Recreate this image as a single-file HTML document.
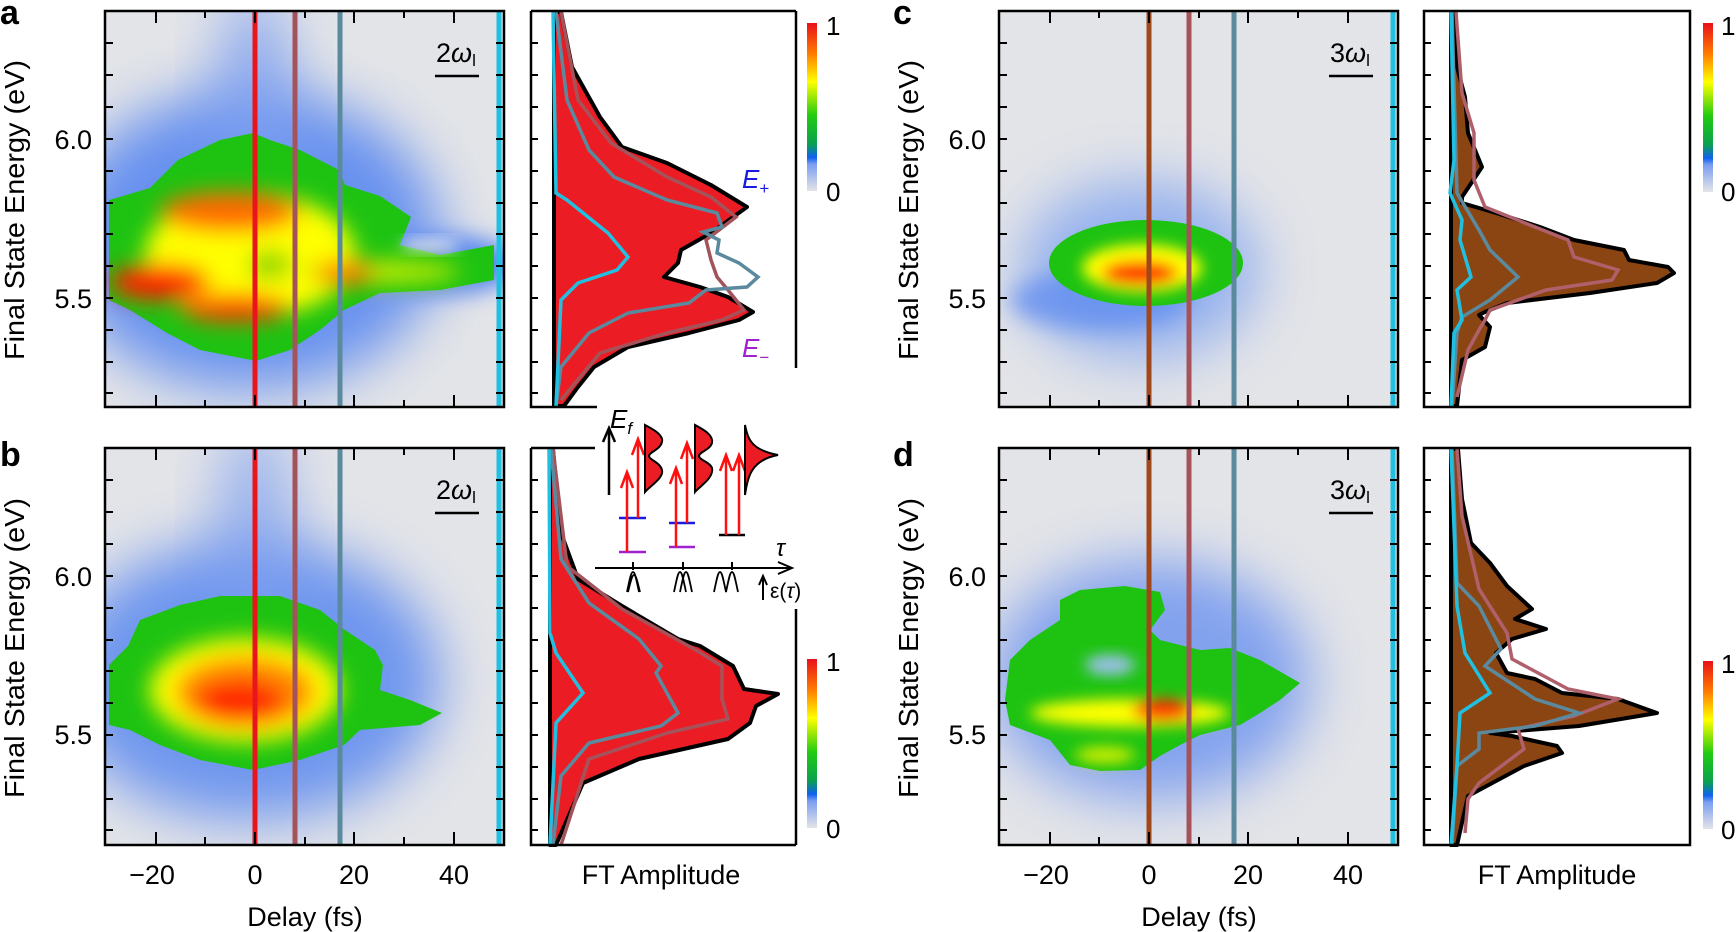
<!DOCTYPE html>
<html><head><meta charset="utf-8"><style>
html,body{margin:0;padding:0;background:#fff}
svg{display:block}
text{font-family:"Liberation Sans",sans-serif}
</style></head><body>
<svg width="1736" height="932" viewBox="0 0 1736 932" xmlns="http://www.w3.org/2000/svg">
<defs>
<filter id="b30" x="-50%" y="-50%" width="200%" height="200%"><feGaussianBlur stdDeviation="28"/></filter>
<filter id="b14" x="-50%" y="-50%" width="200%" height="200%"><feGaussianBlur stdDeviation="11"/></filter>
<filter id="b7" x="-50%" y="-50%" width="200%" height="200%"><feGaussianBlur stdDeviation="7"/></filter>
<linearGradient id="cb" x1="0" y1="0" x2="0" y2="1">
<stop offset="0" stop-color="#e8101a"/><stop offset="0.18" stop-color="#ff7a00"/><stop offset="0.35" stop-color="#ffff00"/><stop offset="0.55" stop-color="#22cc10"/><stop offset="0.72" stop-color="#0aa050"/><stop offset="0.8" stop-color="#1060f0"/><stop offset="0.84" stop-color="#7a9ef0"/><stop offset="1" stop-color="#e4e4e8"/>
</linearGradient>
<clipPath id="ca"><rect x="105" y="11" width="399" height="396"/></clipPath>
<clipPath id="cbp"><rect x="105" y="448" width="399" height="397"/></clipPath>
<clipPath id="cc"><rect x="999" y="11" width="399" height="396"/></clipPath>
<clipPath id="cd"><rect x="999" y="448" width="399" height="397"/></clipPath>
<g id="htk" stroke="#000" stroke-width="2" fill="none">
<path d="M105 43h8M105 75h8M105 107h8M105 139h8M105 171h8M105 203h8M105 234h8M105 266h8M105 298h8M105 330h8M105 362h8M105 393h8"/>
<path d="M504 43h-8M504 75h-8M504 107h-8M504 139h-8M504 171h-8M504 203h-8M504 234h-8M504 266h-8M504 298h-8M504 330h-8M504 362h-8M504 393h-8"/>
<path d="M156 11v12M205 11v7M255 11v12M305 11v7M354 11v12M404 11v7M454 11v12M156 407v-12M205 407v-7M255 407v-12M305 407v-7M354 407v-12M404 407v-7M454 407v-12"/>
</g>
<g id="ftk" stroke="#000" stroke-width="2" fill="none">
<path d="M531 43h7M531 75h7M531 107h7M531 139h7M531 171h7M531 203h7M531 234h7M531 266h7M531 298h7M531 330h7M531 362h7M531 393h7"/>
</g>
<g id="vl">
<line x1="295" y1="11" x2="295" y2="407" stroke="#a5535b" stroke-width="5"/>
<line x1="340" y1="11" x2="340" y2="407" stroke="#5b8a9e" stroke-width="5"/>
<line x1="499" y1="11" x2="499" y2="407" stroke="#22c0e0" stroke-width="5"/>
</g>
</defs>

<!-- ============ Panel a heatmap ============ -->
<g clip-path="url(#ca)">
<rect x="105" y="11" width="399" height="396" fill="#e3e4e8"/>
<ellipse cx="250" cy="240" rx="190" ry="150" fill="#5a88f0" filter="url(#b30)" opacity="0.9"/>
<ellipse cx="255" cy="110" rx="40" ry="120" fill="#7d9ff0" filter="url(#b30)" opacity="0.8"/>
<ellipse cx="440" cy="265" rx="80" ry="30" fill="#5a88f0" filter="url(#b14)"/>
<polygon fill="#1ec312" points="109,200 150,188 178,160 220,140 253,133 270,140 300,150 339,170 345,185 380,196 411,217 400,245 440,255 494,245 494,280 440,290 380,293 344,310 320,330 290,350 256,361 200,350 167,333 130,310 109,300"/>
<ellipse cx="430" cy="245" rx="30" ry="6" fill="#dfe4f0" filter="url(#b7)"/>
<g filter="url(#b14)">
<ellipse cx="250" cy="255" rx="105" ry="62" fill="#ffff00"/>
<ellipse cx="380" cy="272" rx="80" ry="11" fill="#c8ec00"/>
<ellipse cx="230" cy="212" rx="70" ry="20" fill="#ff6a00"/>
<ellipse cx="160" cy="282" rx="50" ry="18" fill="#ff2200"/>
<ellipse cx="235" cy="308" rx="55" ry="14" fill="#ff4400"/>
<ellipse cx="345" cy="273" rx="30" ry="12" fill="#ff7700"/>
<ellipse cx="270" cy="265" rx="22" ry="14" fill="#88d400"/>
</g>
<use href="#vl"/>
<line x1="255" y1="11" x2="255" y2="407" stroke="#e8161c" stroke-width="5"/>
</g>
<rect x="105" y="11" width="399" height="396" fill="none" stroke="#000" stroke-width="2.5"/>
<use href="#htk"/>
<text x="436" y="62" font-size="27" font-family="Liberation Serif,serif">2<tspan font-style="italic">ω</tspan><tspan font-size="17" dy="4">l</tspan></text>
<line x1="435" y1="76" x2="479" y2="76" stroke="#000" stroke-width="2.5"/>

<!-- ============ Panel b heatmap ============ -->
<g clip-path="url(#cbp)">
<rect x="105" y="448" width="399" height="397" fill="#e3e4e8"/>
<ellipse cx="250" cy="680" rx="190" ry="140" fill="#5a88f0" filter="url(#b30)" opacity="0.85"/>
<ellipse cx="255" cy="540" rx="40" ry="120" fill="#7d9ff0" filter="url(#b30)" opacity="0.7"/>
<polygon fill="#1ec312" points="109,665 128,646 140,620 180,605 220,596 280,596 320,610 345,630 375,650 383,665 380,690 410,700 442,713 420,725 360,730 344,745 300,760 253,770 200,760 160,745 130,730 109,725"/>
<g filter="url(#b14)">
<ellipse cx="245" cy="690" rx="95" ry="52" fill="#ffff00"/>
<ellipse cx="245" cy="692" rx="70" ry="36" fill="#ff8a00"/>
<ellipse cx="240" cy="700" rx="45" ry="20" fill="#ff2000"/>
</g>
<g transform="translate(0,437)"><use href="#vl"/></g>
<line x1="255" y1="448" x2="255" y2="845" stroke="#e8161c" stroke-width="5"/>
</g>
<rect x="105" y="448" width="399" height="397" fill="none" stroke="#000" stroke-width="2.5"/>
<g transform="translate(0,437)"><use href="#htk"/></g>
<text x="436" y="499" font-size="27" font-family="Liberation Serif,serif">2<tspan font-style="italic">ω</tspan><tspan font-size="17" dy="4">l</tspan></text>
<line x1="435" y1="513" x2="479" y2="513" stroke="#000" stroke-width="2.5"/>

<!-- ============ Panel c heatmap ============ -->
<g clip-path="url(#cc)">
<rect x="999" y="11" width="399" height="396" fill="#e3e4e8"/>
<ellipse cx="1140" cy="270" rx="120" ry="90" fill="#7aa0f0" filter="url(#b30)" opacity="0.75"/>
<ellipse cx="1100" cy="300" rx="90" ry="30" fill="#5a88f0" filter="url(#b14)" opacity="0.7"/>
<ellipse cx="1146" cy="263" rx="97" ry="43" fill="#1ec312"/>
<g filter="url(#b7)">
<ellipse cx="1142" cy="268" rx="60" ry="24" fill="#ffff00"/>
<ellipse cx="1140" cy="273" rx="38" ry="12" fill="#ff3300"/>
</g>
<g transform="translate(894,0)"><use href="#vl"/></g>
<line x1="1149" y1="11" x2="1149" y2="407" stroke="#a0471c" stroke-width="5"/>
</g>
<rect x="999" y="11" width="399" height="396" fill="none" stroke="#000" stroke-width="2.5"/>
<g transform="translate(894,0)"><use href="#htk"/></g>
<text x="1330" y="62" font-size="27" font-family="Liberation Serif,serif">3<tspan font-style="italic">ω</tspan><tspan font-size="17" dy="4">l</tspan></text>
<line x1="1329" y1="76" x2="1373" y2="76" stroke="#000" stroke-width="2.5"/>

<!-- ============ Panel d heatmap ============ -->
<g clip-path="url(#cd)">
<rect x="999" y="448" width="399" height="397" fill="#e3e4e8"/>
<ellipse cx="1150" cy="680" rx="160" ry="120" fill="#6a92f0" filter="url(#b30)" opacity="0.8"/>
<polygon fill="#1ec312" points="1080,590 1125,586 1160,592 1165,610 1150,630 1160,640 1200,650 1230,648 1260,660 1300,683 1280,700 1260,713 1240,725 1200,735 1180,745 1160,756 1140,770 1100,771 1070,765 1050,740 1010,725 1005,700 1010,660 1030,640 1060,620 1060,600"/>
<ellipse cx="1110" cy="665" rx="25" ry="10" fill="#9fc0f0" filter="url(#b7)"/>
<g filter="url(#b7)">
<ellipse cx="1130" cy="713" rx="100" ry="14" fill="#ffff00"/>
<ellipse cx="1163" cy="710" rx="30" ry="11" fill="#ff3000"/>
<ellipse cx="1105" cy="755" rx="30" ry="8" fill="#d8f000"/>
</g>
<g transform="translate(894,437)"><use href="#vl"/></g>
<line x1="1149" y1="448" x2="1149" y2="845" stroke="#a0471c" stroke-width="5"/>
</g>
<rect x="999" y="448" width="399" height="397" fill="none" stroke="#000" stroke-width="2.5"/>
<g transform="translate(894,437)"><use href="#htk"/></g>
<text x="1330" y="499" font-size="27" font-family="Liberation Serif,serif">3<tspan font-style="italic">ω</tspan><tspan font-size="17" dy="4">l</tspan></text>
<line x1="1329" y1="513" x2="1373" y2="513" stroke="#000" stroke-width="2.5"/>

<!-- ============ FT a ============ -->
<path d="M554,12 L561,12 L572,67 L600,117 L622,147 L667,163 L711,185 L747,207 L711,233 L681,250 L678,263 L664,277 L700,287 L728,297 L753,312 L739,320 L689,333 L628,347 L594,367 L578,387 L564,406 L554,406 Z" fill="#ec1c24" stroke="#000" stroke-width="4" stroke-linejoin="round"/>
<line x1="554" y1="12" x2="554" y2="406" stroke="#000" stroke-width="2" stroke-dasharray="9,5"/>
<polyline fill="none" stroke="#a5535b" stroke-width="3.5" points="561,12 578,100 611,143 667,177 711,197 736,217 706,240 711,260 717,277 728,290 744,310 722,320 667,333 600,353 561,400"/>
<polyline fill="none" stroke="#5b8a9e" stroke-width="3.5" points="556,12 567,100 589,150 614,177 667,200 717,213 722,227 703,232 719,240 717,253 739,263 758,277 747,287 706,290 689,303 628,313 589,333 561,367 556,406"/>
<polyline fill="none" stroke="#22c0e0" stroke-width="3.5" points="553,12 556,193 567,200 608,233 628,257 617,270 578,283 561,300 556,406"/>
<path d="M531,11 H796 M531,11 V407 H597 M796,11 V368" fill="none" stroke="#000" stroke-width="2.5"/>
<use href="#ftk"/>
<text x="742" y="188" font-size="26" font-style="italic" fill="#1a1ae0">E<tspan font-size="17" dy="6" font-style="normal">+</tspan></text>
<text x="742" y="357" font-size="26" font-style="italic" fill="#a020d0">E<tspan font-size="17" dy="6" font-style="normal">−</tspan></text>

<!-- ============ FT b ============ -->
<path d="M550,449 L553,449 L561,533 L578,579 L622,606 L678,639 L700,646 L733,666 L744,689 L778,694 L756,706 L750,723 L728,739 L639,759 L583,783 L556,845 L550,845 Z" fill="#ec1c24" stroke="#000" stroke-width="4" stroke-linejoin="round"/>
<line x1="551" y1="449" x2="551" y2="845" stroke="#000" stroke-width="2" stroke-dasharray="9,5"/>
<polyline fill="none" stroke="#a5535b" stroke-width="3.5" points="553,449 567,566 622,609 694,649 722,666 722,699 728,719 667,733 589,759 561,845"/>
<polyline fill="none" stroke="#5b8a9e" stroke-width="3.5" points="551,449 561,559 589,603 639,639 661,666 656,673 678,713 661,726 589,743 561,776 553,845"/>
<polyline fill="none" stroke="#22c0e0" stroke-width="3.5" points="549,449 550,633 556,653 583,693 556,723 550,845"/>
<path d="M531,448 H595 M531,448 V845 H796 M796,609 V845" fill="none" stroke="#000" stroke-width="2.5"/>
<g transform="translate(0,437)"><use href="#ftk"/></g>

<!-- inset -->
<g>
<text x="610" y="428" font-size="26" font-style="italic">E<tspan font-size="17" dy="6">f</tspan></text>
<path d="M609,495 V430" stroke="#000" stroke-width="2.5"/>
<path d="M603,442 L609,428 L615,442" fill="none" stroke="#000" stroke-width="2.5"/>
<g stroke-width="2.5">
<line x1="619" y1="552" x2="646" y2="552" stroke="#a020d0"/><line x1="619" y1="518" x2="646" y2="518" stroke="#1a1ae0"/>
<line x1="669" y1="547" x2="695" y2="547" stroke="#a020d0"/><line x1="669" y1="523" x2="695" y2="523" stroke="#1a1ae0"/>
<line x1="719" y1="535" x2="745" y2="535" stroke="#000"/>
</g>
<g stroke="#ff1010" stroke-width="2.5" fill="none">
<path d="M627,552V474M621,488L627,472L633,488"/>
<path d="M638,518V441M632,455L638,439L644,455"/>
<path d="M676,547V470M670,484L676,468L682,484"/>
<path d="M687,523V445M681,459L687,443L693,459"/>
<path d="M726,535V457M720,471L726,455L732,471"/>
<path d="M739,535V457M733,471L739,455L745,471"/>
</g>
<path d="M645,425 C650,428 664,434 662,442 C660,450 649,452 649,456 C649,460 660,462 662,470 C664,478 650,486 645,492 Z" fill="#ec1c24" stroke="#000" stroke-width="2"/>
<path d="M695,425 C700,428 714,434 712,443 C710,450 699,452 699,456 C699,460 710,462 712,468 C714,478 700,486 695,492 Z" fill="#ec1c24" stroke="#000" stroke-width="2"/>
<path d="M745,425 C748,440 752,450 778,455 C752,460 748,475 745,495 Z" fill="#ec1c24" stroke="#000" stroke-width="2"/>
<path d="M595,568 H790 M778,562 L792,568 L778,574 M633,562V570M683,562V570M732,562V570" fill="none" stroke="#000" stroke-width="2"/>
<text x="776" y="556" font-size="24" font-style="italic" font-family="Liberation Serif,serif">τ</text>
<path d="M627,592 C630,578 631,572 633,572 C635,572 636,578 639,592 M628,592 C631,580 632,575 634,575 C636,575 637,580 640,592" fill="none" stroke="#000" stroke-width="1.8"/>
<path d="M674,592 C677,578 678,572 680,572 C682,572 683,578 686,592 M680,592 C683,578 684,572 686,572 C688,572 689,578 692,592" fill="none" stroke="#000" stroke-width="1.8"/>
<path d="M714,592 C717,578 718,572 720,572 C722,572 723,578 726,592 C729,578 730,572 732,572 C734,572 735,578 738,592" fill="none" stroke="#000" stroke-width="1.8"/>
<path d="M763,600V577M759,585L763,576L767,585" fill="none" stroke="#000" stroke-width="2"/>
<text x="770" y="598" font-size="21" font-family="Liberation Serif,serif">ε(<tspan font-style="italic">τ</tspan>)</text>
</g>

<!-- ============ FT c ============ -->
<path d="M1451,12 L1454,12 L1457,67 L1465,97 L1468,133 L1482,167 L1462,197 L1462,203 L1496,213 L1540,227 L1574,240 L1624,250 L1629,260 L1668,267 L1674,273 L1657,283 L1590,293 L1507,303 L1485,312 L1479,315 L1490,327 L1485,347 L1462,360 L1457,406 L1451,406 Z" fill="#8b4513" stroke="#000" stroke-width="4" stroke-linejoin="round"/>
<line x1="1451" y1="12" x2="1451" y2="406" stroke="#000" stroke-width="2" stroke-dasharray="9,5"/>
<polyline fill="none" stroke="#b0606a" stroke-width="3.5" points="1456,12 1462,93 1474,133 1474,180 1485,207 1535,227 1568,240 1574,257 1618,270 1612,280 1546,290 1490,310 1485,320 1479,330 1468,350 1457,397"/>
<polyline fill="none" stroke="#5b8a9e" stroke-width="3.5" points="1452,12 1457,193 1479,230 1490,250 1518,277 1490,300 1462,317 1457,333 1452,406"/>
<polyline fill="none" stroke="#22c0e0" stroke-width="3.5" points="1451,12 1454,160 1450,193 1462,220 1460,240 1471,277 1457,290 1462,320 1454,333 1451,406"/>
<rect x="1424" y="11" width="266" height="396" fill="none" stroke="#000" stroke-width="2.5"/>
<g transform="translate(893,0)"><use href="#ftk"/></g>

<!-- ============ FT d ============ -->
<path d="M1451,449 L1458,449 L1462,499 L1471,543 L1490,563 L1507,586 L1532,609 L1515,619 L1546,629 L1512,639 L1496,653 L1507,673 L1535,679 L1562,693 L1618,699 L1657,713 L1579,726 L1490,733 L1512,736 L1557,746 L1562,753 L1524,766 L1468,796 L1457,845 L1451,845 Z" fill="#8b4513" stroke="#000" stroke-width="4" stroke-linejoin="round"/>
<line x1="1451" y1="449" x2="1451" y2="845" stroke="#000" stroke-width="2" stroke-dasharray="9,5"/>
<polyline fill="none" stroke="#b0606a" stroke-width="3.5" points="1457,449 1462,516 1479,589 1507,633 1512,659 1568,689 1618,699 1574,716 1518,729 1524,749 1479,783 1468,799 1465,833"/>
<polyline fill="none" stroke="#5b8a9e" stroke-width="3.5" points="1452,449 1457,583 1479,606 1501,649 1485,666 1535,699 1579,713 1535,726 1479,733 1479,749 1457,766 1452,845"/>
<polyline fill="none" stroke="#22c0e0" stroke-width="3.5" points="1451,449 1457,606 1465,653 1490,693 1460,713 1457,766 1451,845"/>
<rect x="1424" y="448" width="266" height="397" fill="none" stroke="#000" stroke-width="2.5"/>
<g transform="translate(893,437)"><use href="#ftk"/></g>

<!-- colorbars -->
<rect x="807" y="23" width="10" height="168" fill="url(#cb)"/>
<rect x="807" y="659" width="10" height="169" fill="url(#cb)"/>
<rect x="1703" y="23" width="10" height="169" fill="url(#cb)"/>
<rect x="1703" y="661" width="10" height="168" fill="url(#cb)"/>
<g font-size="26">
<text x="826" y="35">1</text><text x="826" y="201">0</text>
<text x="826" y="671">1</text><text x="826" y="838">0</text>
<text x="1721" y="35">1</text><text x="1721" y="201">0</text>
<text x="1721" y="673">1</text><text x="1721" y="839">0</text>
</g>

<!-- axis labels -->
<g font-size="27" text-anchor="end">
<text x="92" y="149">6.0</text><text x="92" y="308">5.5</text>
<text x="92" y="586">6.0</text><text x="92" y="744">5.5</text>
<text x="986" y="149">6.0</text><text x="986" y="308">5.5</text>
<text x="986" y="586">6.0</text><text x="986" y="744">5.5</text>
</g>
<g font-size="27" text-anchor="middle">
<text x="152" y="884">−20</text><text x="255" y="884">0</text><text x="354" y="884">20</text><text x="454" y="884">40</text>
<text x="1046" y="884">−20</text><text x="1149" y="884">0</text><text x="1248" y="884">20</text><text x="1348" y="884">40</text>
<text x="305" y="926">Delay (fs)</text><text x="1199" y="926">Delay (fs)</text>
<text x="661" y="884">FT Amplitude</text><text x="1557" y="884">FT Amplitude</text>
</g>
<g font-size="28" text-anchor="middle">
<text transform="translate(24,210) rotate(-90)" textLength="300" lengthAdjust="spacingAndGlyphs">Final State Energy (eV)</text>
<text transform="translate(24,648) rotate(-90)" textLength="300" lengthAdjust="spacingAndGlyphs">Final State Energy (eV)</text>
<text transform="translate(918,210) rotate(-90)" textLength="300" lengthAdjust="spacingAndGlyphs">Final State Energy (eV)</text>
<text transform="translate(918,648) rotate(-90)" textLength="300" lengthAdjust="spacingAndGlyphs">Final State Energy (eV)</text>
</g>
<g font-size="34" font-weight="bold">
<text x="0" y="24">a</text><text x="0" y="466">b</text>
<text x="893" y="24">c</text><text x="893" y="466">d</text>
</g>
</svg>
</body></html>
